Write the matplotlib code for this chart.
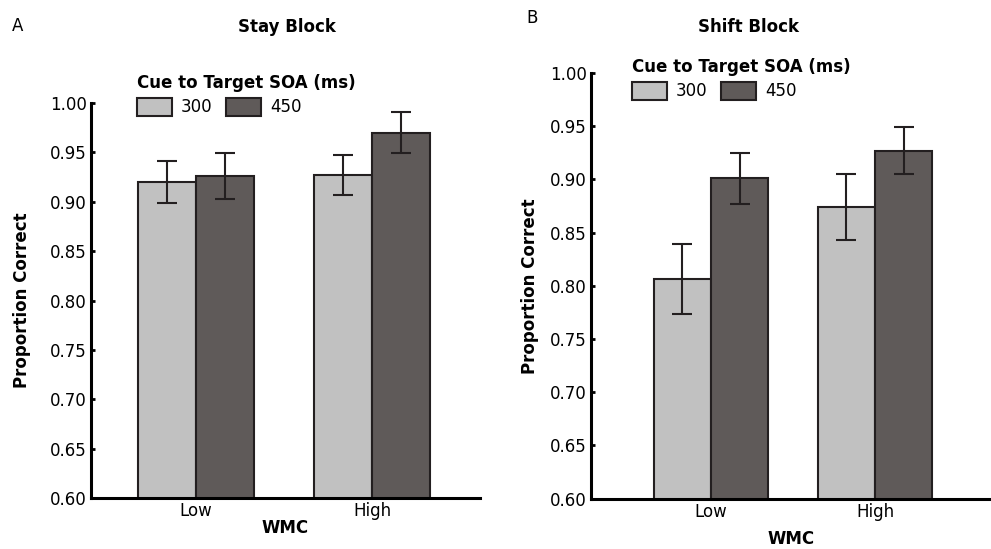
import matplotlib
matplotlib.use("Agg")
import matplotlib.pyplot as plt
from matplotlib.patches import Patch
import numpy as np

plt.rcParams['font.family'] = ['DejaVu Sans']

# WMC groups and SOA conditions
groups = ["Low", "High"]
soa_labels = ["300", "450"]

# Stay block: proportion correct and error (per WMC group)
stay_300 = [0.920, 0.927]
stay_450 = [0.926, 0.970]
stay_300_err = [0.021, 0.020]
stay_450_err = [0.023, 0.021]

# Shift block
shift_300 = [0.806, 0.874]
shift_450 = [0.901, 0.927]
shift_300_err = [0.033, 0.031]
shift_450_err = [0.024, 0.022]

yticks = [0.60, 0.65, 0.70, 0.75, 0.80, 0.85, 0.90, 0.95, 1.00]

light = "#c1c1c1"
dark = "#5f5a59"
edge = "#231f20"

FS = 12

W, H = 991, 549
fig = plt.figure(figsize=(W / 100, H / 100), dpi=100)


def px_axes(x0, x1, y_top, y_bot):
    return fig.add_axes([x0 / W, 1 - y_bot / H, (x1 - x0) / W, (y_bot - y_top) / H])


def draw_panel(ax, v300, v450, e300, e450, width, xlim, xlabelpad, ylabelpad):
    x = np.arange(len(groups))
    ax.bar(x - width / 2, v300, width, color=light, edgecolor=edge, linewidth=1.5, zorder=2)
    ax.bar(x + width / 2, v450, width, color=dark, edgecolor=edge, linewidth=1.5, zorder=2)
    ax.errorbar(x - width / 2, v300, yerr=e300, fmt="none", ecolor=edge,
                elinewidth=1.5, capsize=7, capthick=1.5, zorder=3)
    ax.errorbar(x + width / 2, v450, yerr=e450, fmt="none", ecolor=edge,
                elinewidth=1.5, capsize=7, capthick=1.5, zorder=3)
    ax.set_ylim(0.60, 1.00)
    ax.set_xlim(*xlim)
    ax.set_yticks(yticks)
    ax.set_yticklabels([f"{t:.2f}" for t in yticks])
    ax.set_xticks(x)
    ax.set_xticklabels(groups)
    ax.tick_params(axis="y", direction="in", length=3, width=2, labelsize=FS, pad=3)
    ax.tick_params(axis="x", length=0, labelsize=FS, pad=3)
    for s in ("top", "right"):
        ax.spines[s].set_visible(False)
    for s in ("left", "bottom"):
        ax.spines[s].set_linewidth(2.2)
        ax.spines[s].set_color("black")
    ax.set_ylabel("Proportion Correct", fontsize=FS, fontweight="bold", labelpad=ylabelpad)
    ax.set_xlabel("WMC", fontsize=FS, fontweight="bold", labelpad=xlabelpad)


def draw_legend(ax, x_left, y_top):
    handles = [Patch(facecolor=light, edgecolor=edge, linewidth=1.5),
               Patch(facecolor=dark, edgecolor=edge, linewidth=1.5)]
    leg = ax.legend(handles, soa_labels, title="Cue to Target SOA (ms)", ncol=2,
                    loc="upper left", bbox_to_anchor=(x_left / W, 1 - y_top / H),
                    bbox_transform=fig.transFigure, frameon=False, fontsize=FS,
                    title_fontproperties={"weight": "bold", "size": FS},
                    handlelength=2.1, handleheight=1.3, handletextpad=0.55,
                    columnspacing=0.8, borderpad=0, borderaxespad=0,
                    labelspacing=0.35, alignment="left")
    return leg


# Stay block panel
ax1 = px_axes(91, 480, 103, 498)
draw_panel(ax1, stay_300, stay_450, stay_300_err, stay_450_err,
           width=0.33, xlim=(-0.597, 1.614), xlabelpad=-1, ylabelpad=14)
draw_legend(ax1, 137, 74)

# Shift block panel
ax2 = px_axes(591, 991, 73, 498.5)
draw_panel(ax2, shift_300, shift_450, shift_300_err, shift_450_err,
           width=0.35, xlim=(-0.732, 1.707), xlabelpad=6.5, ylabelpad=8)
draw_legend(ax2, 632, 58)

fig.text(287 / W, 1 - 27 / H, "Stay Block", ha="center", va="center",
         fontsize=FS, fontweight="bold")
fig.text(749 / W, 1 - 27 / H, "Shift Block", ha="center", va="center",
         fontsize=FS, fontweight="bold")
fig.text(12 / W, 1 - 26 / H, "A", ha="left", va="center", fontsize=FS)
fig.text(526 / W, 1 - 18 / H, "B", ha="left", va="center", fontsize=FS)

fig.savefig("out.png", dpi=100)
